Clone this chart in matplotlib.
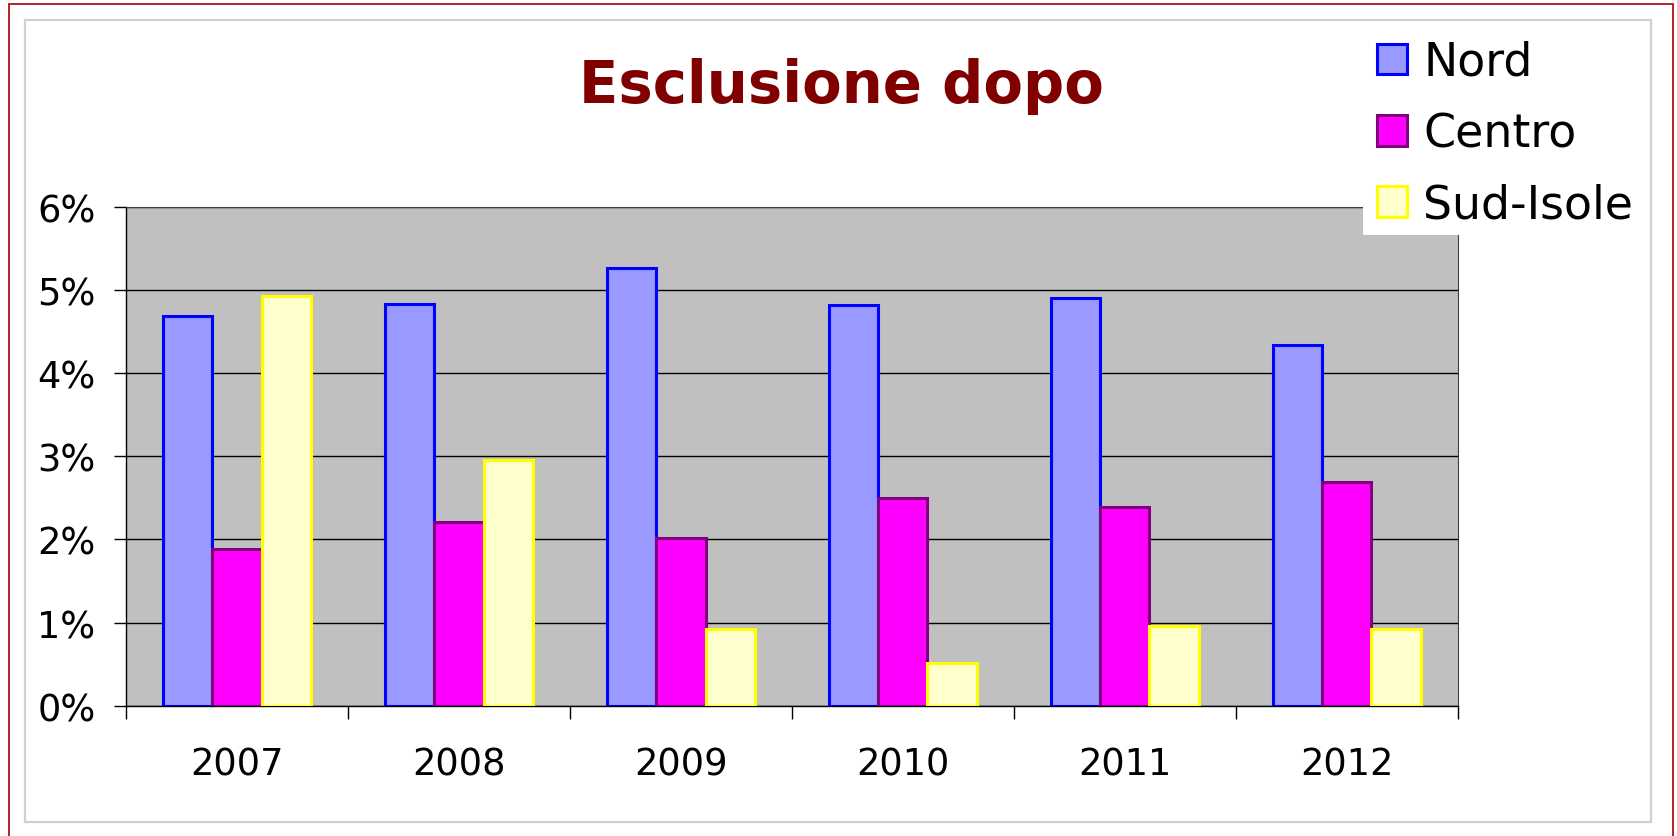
import numpy as np
import matplotlib
matplotlib.use("Agg")
import matplotlib.pyplot as plt
from matplotlib.patches import Rectangle
from matplotlib.ticker import FixedLocator, PercentFormatter

# dati (percentuali)
anni = ["2007", "2008", "2009", "2010", "2011", "2012"]
nord = [4.68, 4.83, 5.26, 4.82, 4.90, 4.34]
centro = [1.88, 2.21, 2.02, 2.50, 2.39, 2.69]
sud_isole = [4.93, 2.95, 0.92, 0.51, 0.96, 0.92]
serie = ["Nord", "Centro", "Sud-Isole"]

W, H = 1677, 837
fig = plt.figure(figsize=(W / 100, H / 100), dpi=100)
fig.patch.set_facecolor("white")

# cornici
fig.add_artist(Rectangle((9 / W, -0.1), 1664 / W, 1.1 - 5 / H, transform=fig.transFigure,
                         fill=False, edgecolor="#B22222", linewidth=1.4, zorder=0))
fig.add_artist(Rectangle((25 / W, (H - 823) / H), 1626 / W, 802 / H, transform=fig.transFigure,
                         fill=False, edgecolor="#D0D0D0", linewidth=1.6, zorder=0))

ax = fig.add_axes([126 / W, (H - 706.7) / H, (1457.7 - 126) / W, (706.7 - 207.7) / H])
ax.set_facecolor("#C0C0C0")

x = np.arange(len(anni))
w = 2 / 9
ax.bar(x - w, nord, w, color="#9999FF", edgecolor="#0000FF", linewidth=2.2, label=serie[0], zorder=3)
ax.bar(x, centro, w, color="#FF00FF", edgecolor="#800080", linewidth=2.2, label=serie[1], zorder=3)
ax.bar(x + w, sud_isole, w, color="#FFFFCC", edgecolor="#FFFF00", linewidth=2.2, label=serie[2], zorder=3)

ax.set_xlim(-0.5, len(anni) - 0.5)
ax.set_ylim(0, 6)
ax.set_yticks(range(0, 7))
ax.yaxis.set_major_formatter(PercentFormatter(decimals=0))
ax.yaxis.grid(True, color="black", linewidth=1.0, zorder=1)
ax.set_axisbelow(True)

ax.set_xticks(x)
ax.set_xticklabels(anni)
ax.xaxis.set_minor_locator(FixedLocator(np.arange(-0.5, len(anni), 1.0)))
ax.tick_params(axis="x", which="major", length=0, pad=29, labelsize=26.5)
ax.tick_params(axis="x", which="minor", length=9, width=1, direction="out")
ax.tick_params(axis="y", length=9, width=1, pad=13, labelsize=26.5)

for s in ["top", "right"]:
    ax.spines[s].set_color("#404040")
    ax.spines[s].set_linewidth(0.8)
ax.spines["left"].set_linewidth(1)
ax.spines["bottom"].set_linewidth(1)

fig.text(841 / W, 1 - 86.5 / H, "Esclusione dopo", fontsize=41.5, fontweight="bold",
         family="DejaVu Sans", color="#800000", ha="center", va="center")

# legenda su sfondo bianco
fig.add_artist(Rectangle((1362.7 / W, (H - 235.7) / H), 280 / W, 200 / H, transform=fig.transFigure,
                         facecolor="white", edgecolor="none", zorder=5))
leg = fig.legend(loc="upper left", bbox_to_anchor=(1377 / W, 1 - 41 / H), frameon=False,
                 fontsize=33, handlelength=0.655, handleheight=0.655, handletextpad=0.35,
                 labelspacing=0.574, borderpad=0, borderaxespad=0)
leg.set_zorder(6)

fig.savefig("out.png", dpi=100)
